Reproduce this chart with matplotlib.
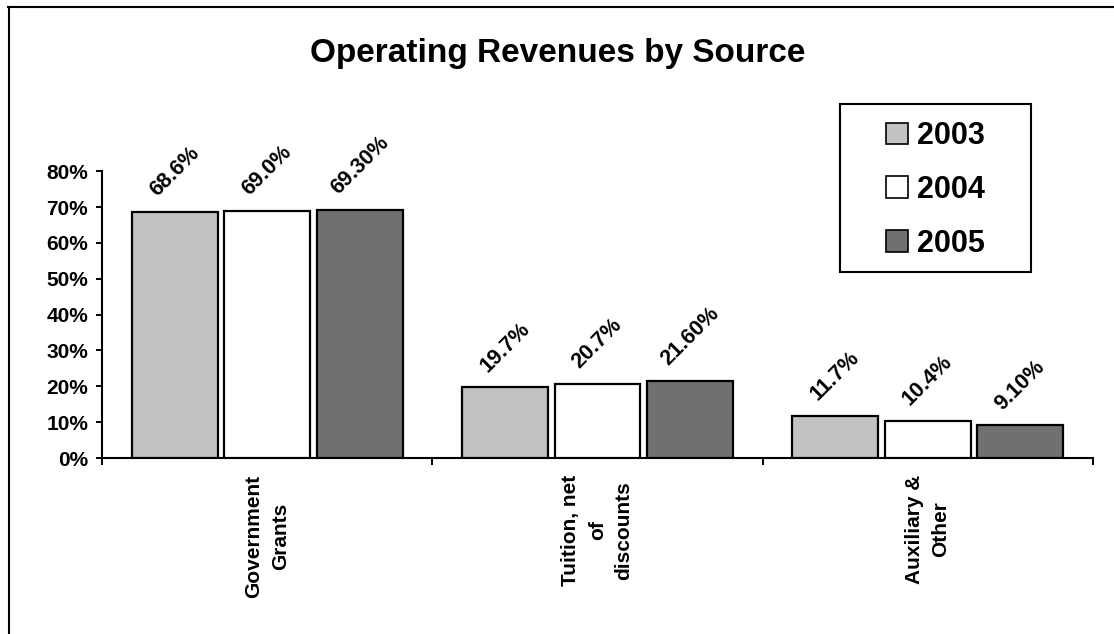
import numpy as np
import matplotlib
matplotlib.use('Agg')
import matplotlib.pyplot as plt
from matplotlib.patches import Rectangle, Patch
from matplotlib.lines import Line2D
from matplotlib.ticker import FixedLocator, PercentFormatter

plt.rcParams['font.family'] = ['Liberation Sans', 'DejaVu Sans']
plt.rcParams['font.weight'] = 'bold'

# data
categories = ['Government\nGrants', 'Tuition, net\nof\ndiscounts', 'Auxiliary &\nOther']
years = ['2003', '2004', '2005']
v2003 = [0.686, 0.197, 0.117]
v2004 = [0.690, 0.207, 0.104]
v2005 = [0.693, 0.216, 0.091]
labels2003 = ['68.6%', '19.7%', '11.7%']
labels2004 = ['69.0%', '20.7%', '10.4%']
labels2005 = ['69.30%', '21.60%', '9.10%']

series = [v2003, v2004, v2005]
series_labels = [labels2003, labels2004, labels2005]
colors = ['#c2c2c2', '#ffffff', '#707070']

fig = plt.figure(figsize=(11.14, 6.34), dpi=100)
ax = fig.add_axes([0.0916, 0.2776, 0.8895, 0.4524])

centers = np.arange(len(categories)) + 0.5
width = 0.26
step = 0.28

for i in range(3):
    xs = centers + (i - 1) * step
    ax.bar(xs, series[i], width=width, color=colors[i], edgecolor='black', linewidth=1.6, zorder=3)
    for x, v, lab in zip(xs, series[i], series_labels[i]):
        ax.annotate(lab, (x, v), xytext=(0, 8), textcoords='offset points',
                    rotation=45, ha='center', va='bottom', fontsize=15.5, fontweight='bold')

ax.set_xlim(0, 3)
ax.set_ylim(0, 0.8)
ax.set_yticks(np.arange(0, 0.81, 0.1))
ax.yaxis.set_major_formatter(PercentFormatter(1.0, decimals=0))
ax.set_xticks(centers)
ax.set_xticklabels(categories, rotation=90, multialignment='center', va='top', ha='center',
                   linespacing=1.5)
ax.xaxis.set_minor_locator(FixedLocator([0, 1, 2, 3]))
ax.tick_params(axis='x', which='major', length=0, pad=12, labelsize=15)
ax.tick_params(axis='x', which='minor', length=5, width=1.4, direction='out')
ax.tick_params(axis='y', length=4, width=1.4, direction='out', pad=6, labelsize=15)

for s in ['top', 'right']:
    ax.spines[s].set_visible(False)
for s in ['left', 'bottom']:
    ax.spines[s].set_linewidth(1.5)

# title
fig.text(0.5009, 0.916, 'Operating Revenues by Source', ha='center', va='center',
         fontsize=24, fontweight='bold')

# legend in a boxed frame
fig.patches.append(Rectangle((840 / 1114, 1 - 272 / 634), 191 / 1114, 168 / 634,
                             transform=fig.transFigure, facecolor='white',
                             edgecolor='black', linewidth=1.5, zorder=5))
handles = [Patch(facecolor=c, edgecolor='black', linewidth=1.2) for c in colors]
leg = fig.legend(handles, years, loc='center', bbox_to_anchor=(0.8398, 0.7005),
                 frameon=False, fontsize=22, handlelength=0.7, handleheight=0.7,
                 handletextpad=0.3, labelspacing=0.78)
leg.set_zorder(6)
for t in leg.get_texts():
    t.set_fontweight('bold')

# outer border of the scanned chart
fig.add_artist(Line2D([8 / 1114, 1], [1 - 7 / 634, 1 - 7 / 634], transform=fig.transFigure,
                      color='black', linewidth=1.5))
fig.add_artist(Line2D([9 / 1114, 9 / 1114], [0, 1 - 7 / 634], transform=fig.transFigure,
                      color='black', linewidth=1.5))

fig.savefig('out.png', dpi=100)
